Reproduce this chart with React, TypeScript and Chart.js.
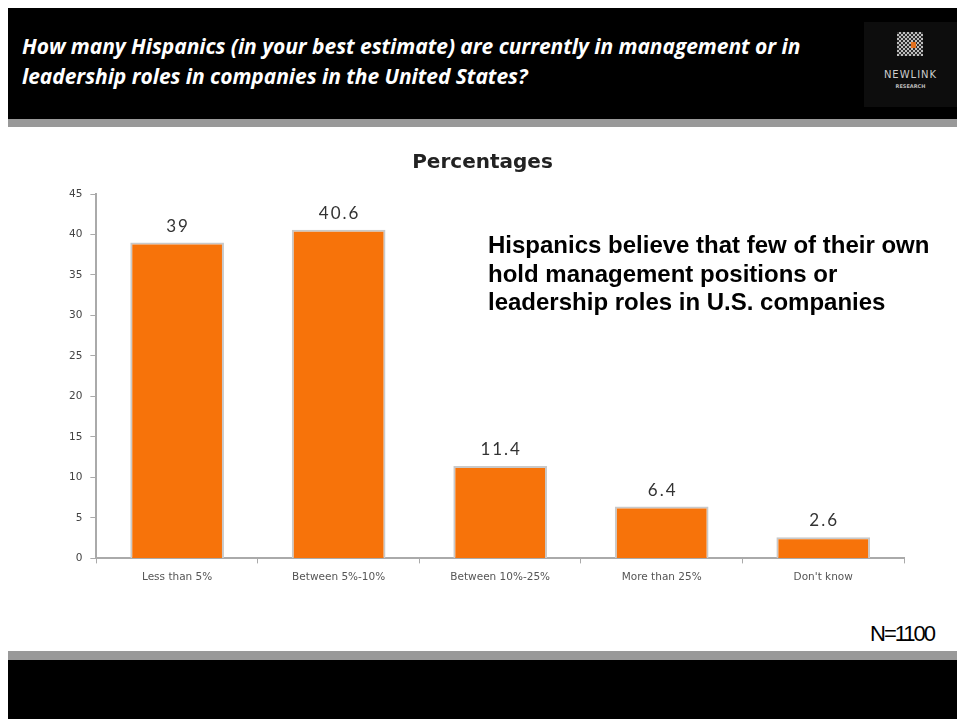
import React, { useEffect, useRef } from "react";
import { Chart, registerables } from "chart.js";

Chart.register(...registerables);

const categories = ["Less than 5%", "Between 5%-10%", "Between 10%-25%", "More than 25%", "Don't know"];
const values = [39, 40.6, 11.4, 6.4, 2.6];
const valueLabels = ["39", "40.6", "11.4", "6.4", "2.6"];
const headerLines = [
  "How many Hispanics (in your best estimate) are currently in management or in",
  "leadership roles in companies in the United States?",
];
const calloutLines = [
  "Hispanics believe that few of their own",
  "hold management positions or",
  "leadership roles in U.S. companies",
];
const chartTitle = "Percentages";
const sampleNote = "N=1100";

const ORANGE = "#F7730A";
const FONT = "Lato, 'Open Sans', sans-serif";
const TICK_FONT = "'DejaVu Sans', sans-serif";

const valueLabelPlugin = {
  id: "valueLabels",
  afterDatasetsDraw(chart: any) {
    const ctx = chart.ctx;
    const meta = chart.getDatasetMeta(0);
    ctx.save();
    ctx.font = `400 17px ${FONT}`;
    (ctx as any).letterSpacing = "2px";
    ctx.fillStyle = "#333";
    ctx.textAlign = "center";
    ctx.textBaseline = "bottom";
    meta.data.forEach((bar: any, i: number) => {
      ctx.fillText(valueLabels[i], bar.x + 1, bar.y - 8);
    });
    ctx.restore();
  },
};

function BarChart() {
  const ref = useRef<HTMLCanvasElement | null>(null);
  useEffect(() => {
    if (!ref.current) return;
    const chart = new Chart(ref.current, {
      type: "bar",
      data: {
        labels: categories,
        datasets: [
          {
            data: values,
            backgroundColor: ORANGE,
            borderColor: "#c9c9c9",
            borderWidth: 2,
            categoryPercentage: 1,
            barPercentage: 0.58,
          },
        ],
      },
      options: {
        animation: false,
        responsive: false,
        maintainAspectRatio: false,
        layout: { padding: { left: 21, right: 53, top: 0, bottom: 8 } },
        plugins: {
          legend: { display: false },
          tooltip: { enabled: false },
          title: {
            display: true,
            text: chartTitle,
            color: "#222",
            font: { family: TICK_FONT, size: 20, weight: "bold" },
            padding: { top: 11, bottom: 19 },
          },
        },
        scales: {
          x: {
            grid: { display: true, drawOnChartArea: false, drawTicks: true, tickLength: 5, color: "#aaa", offset: true },
            border: { display: true, color: "#aaa", width: 2 },
            ticks: { color: "#555", font: { family: TICK_FONT, size: 10.5 }, padding: 8, maxRotation: 0 },
          },
          y: {
            min: 0,
            max: 45,
            grid: { display: true, drawOnChartArea: false, drawTicks: true, tickLength: 6, color: "#aaa" },
            border: { display: true, color: "#aaa", width: 2 },
            ticks: { stepSize: 5, color: "#444", font: { family: TICK_FONT, size: 10.5 }, padding: 8 },
          },
        },
      },
      plugins: [valueLabelPlugin],
    });
    return () => chart.destroy();
  }, []);
  return <canvas ref={ref} width={917} height={460} style={{ position: "absolute", left: 32, top: 132 }} />;
}

export default function App() {
  useEffect(() => {
    document.body.style.overflow = "hidden";
    document.documentElement.style.overflow = "hidden";
  }, []);
  return (
    <div style={{ position: "fixed", left: 8, top: 8, width: 949, height: 711, background: "#fff", overflow: "hidden" }}>
      <div style={{ position: "absolute", left: 0, top: 0, width: 949, height: 111, background: "#000" }} />
      <div style={{ position: "absolute", left: 0, top: 111, width: 949, height: 8, background: "#999" }} />
      <div
        style={{
          position: "absolute",
          left: 14,
          top: 23,
          color: "#fff",
          fontFamily: "'Open Sans', sans-serif",
          fontStyle: "italic",
          fontWeight: 700,
          fontSize: 21,
          lineHeight: "30px",
          letterSpacing: -0.05,
          whiteSpace: "nowrap",
        }}
      >
        {headerLines.map((l, i) => (
          <div key={i}>{l}</div>
        ))}
      </div>
      <div style={{ position: "absolute", left: 856, top: 14, width: 93, height: 85, background: "#0d0d0d" }}>
        <div
          style={{
            position: "absolute",
            left: 33,
            top: 10,
            width: 26,
            height: 24,
            background: "repeating-conic-gradient(#ddd 0% 25%, #333 0% 50%) 0 0 / 4px 4px",
            opacity: 0.85,
          }}
        />
        <div style={{ position: "absolute", left: 47, top: 20, width: 5, height: 6, background: "#e07020" }} />
        <div
          style={{
            position: "absolute",
            left: 0,
            top: 47,
            width: 93,
            textAlign: "center",
            color: "#ccc",
            fontFamily: "'DejaVu Sans', sans-serif",
            fontSize: 10,
            letterSpacing: 1,
          }}
        >
          NEWLINK
        </div>
        <div
          style={{
            position: "absolute",
            left: 0,
            top: 61,
            width: 93,
            textAlign: "center",
            color: "#bbb",
            fontFamily: "'DejaVu Sans', sans-serif",
            fontSize: 5,
            fontWeight: 700,
          }}
        >
          RESEARCH
        </div>
      </div>
      <BarChart />
      <div
        style={{
          position: "absolute",
          left: 480,
          top: 223,
          color: "#000",
          fontFamily: "'Liberation Sans', Arial, sans-serif",
          fontWeight: 700,
          fontSize: 24,
          lineHeight: "28.5px",
          whiteSpace: "nowrap",
        }}
      >
        {calloutLines.map((l, i) => (
          <div key={i}>{l}</div>
        ))}
      </div>
      <div
        style={{
          position: "absolute",
          left: 862,
          top: 613,
          color: "#000",
          fontFamily: "'Liberation Sans', Arial, sans-serif",
          fontSize: 22,
          lineHeight: "25px",
          letterSpacing: -2,
        }}
      >
        {sampleNote}
      </div>
      <div style={{ position: "absolute", left: 0, top: 643, width: 949, height: 9, background: "#999" }} />
      <div style={{ position: "absolute", left: 0, top: 652, width: 949, height: 59, background: "#000" }} />
    </div>
  );
}
